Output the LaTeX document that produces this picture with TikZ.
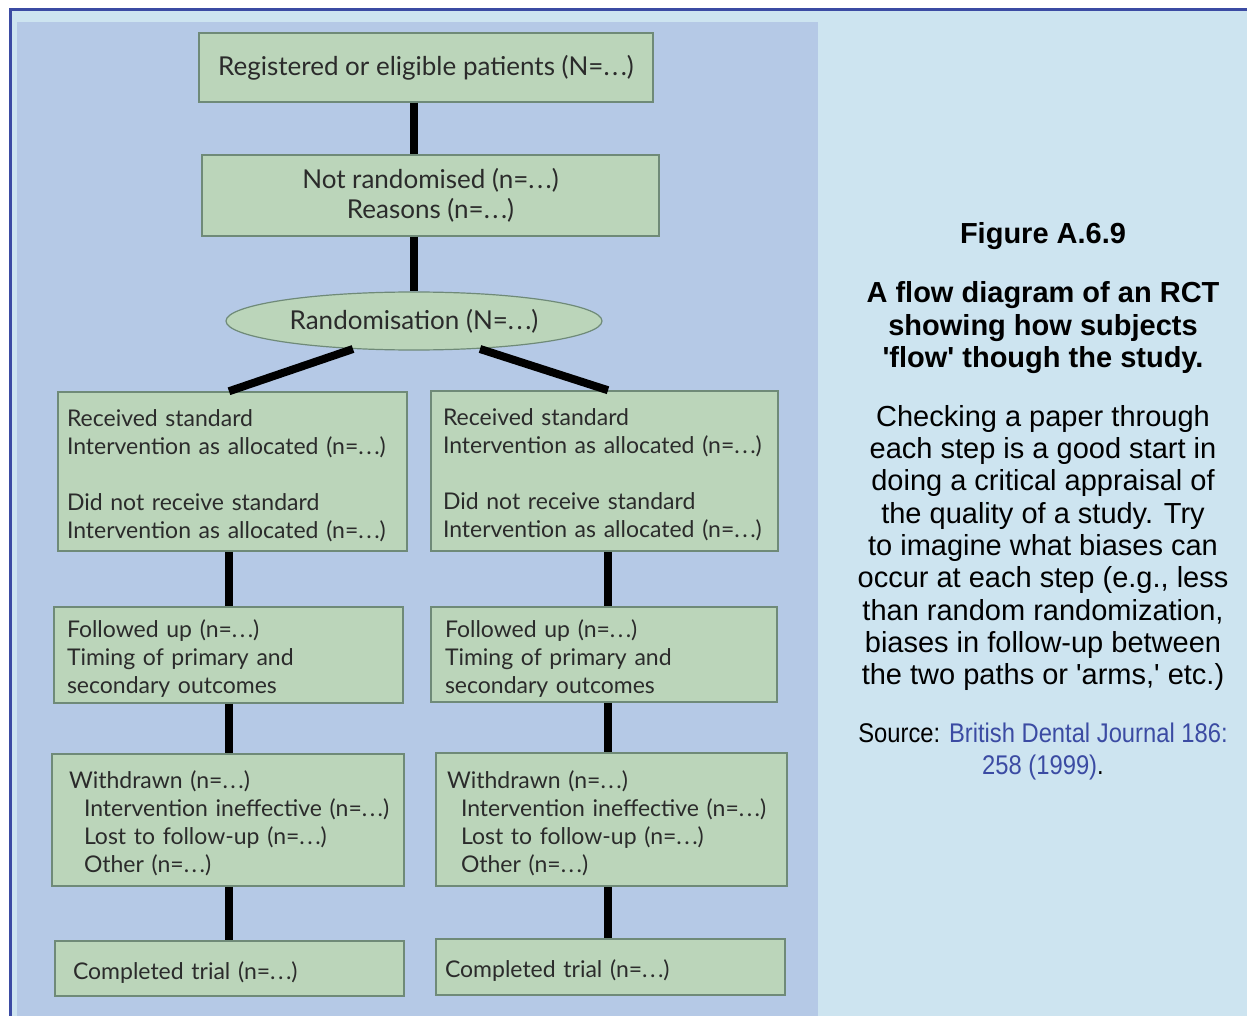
\documentclass[tikz,border=0pt]{standalone}
\usepackage{fontspec}
\setmainfont{Liberation Sans}[Ligatures=TeXOff]
\newfontfamily\diag{Lato}
\newfontfamily\narrowsans[FakeStretch=0.88,Ligatures=TeXOff]{Liberation Sans}
\usetikzlibrary{shapes.geometric,calc}
\definecolor{outerbg}{HTML}{CDE4F0}
\definecolor{panel}{HTML}{B5C9E6}
\definecolor{boxfill}{HTML}{BBD5BA}
\definecolor{boxline}{HTML}{6F8A78}
\definecolor{frame}{HTML}{3B4BA3}
\definecolor{txt}{HTML}{2B2B2B}
\definecolor{linkblue}{HTML}{3B4BA3}
\newcommand{\dd}{.\kern2.5pt.\kern2.5pt.}
\begin{document}
\begin{tikzpicture}[x=1pt,y=-1pt,
 box/.style={draw=boxline, line width=1.5pt, fill=boxfill, inner sep=0pt, text=txt,
   font=\diag\fontsize{23}{28}\selectfont},
 cbox/.style={box, align=center, font=\diag\fontsize{26}{30}\selectfont},
 lbox/.style={box, align=left, execute at begin node={\rule{0pt}{25pt}}},
 conn/.style={line width=8pt, black},
 side/.style={align=center, text=black, font=\fontsize{29}{32.3}\selectfont}]
\useasboundingbox (0,0) rectangle (1247,1016);
\fill[white] (0,0) rectangle (1247,1016);
\fill[outerbg] (10,10) rectangle (1247,1016);
\draw[frame, line width=3pt] (10,1016) -- (10,10) -- (1247,10);
\fill[panel] (17,22) rectangle (818,1016);

\coordinate (lx) at (229,0);
\coordinate (rx) at (608,0);

\node[cbox, minimum width=454pt, minimum height=69pt] (reg) at (426,67.5)
  {Registered or eligible patients (N=\dd)};
\node[cbox, minimum width=457pt, minimum height=81pt] (nr) at (430.5,195.5)
  {Not randomised (n=\dd)\\Reasons (n=\dd)};
\node[ellipse, draw=boxline, line width=1.2pt, fill=boxfill, text=txt, inner sep=0pt,
  minimum width=376pt, minimum height=58pt, font=\diag\fontsize{26}{30}\selectfont]
  (ell) at (414,321) {Randomisation (N=\dd)};

\node[lbox, text width=331pt, inner xsep=9pt, minimum height=159pt] (la) at (232.5,471.5)
  {\mbox{Received standard}\\\mbox{Intervention as allocated (n=\dd)}\\[28pt]\mbox{Did not receive standard}\\\mbox{Intervention as allocated (n=\dd)}};
\node[lbox, text width=323pt, inner xsep=12pt, minimum height=160pt] (ra) at (604.5,471)
  {\mbox{Received standard}\\\mbox{Intervention as allocated (n=\dd)}\\[28pt]\mbox{Did not receive standard}\\\mbox{Intervention as allocated (n=\dd)}};

\node[lbox, text width=323pt, inner xsep=13pt, minimum height=96pt] (fl) at (228.5,655)
  {Followed up (n=\dd)\\Timing of primary and\\secondary outcomes};
\node[lbox, text width=318pt, inner xsep=14pt, minimum height=95pt] (fr) at (604,654.5)
  {Followed up (n=\dd)\\Timing of primary and\\secondary outcomes};

\node[lbox, text width=318pt, inner xsep=17pt, minimum height=132pt] (wl) at (228,820)
  {Withdrawn (n=\dd)\\\mbox{\hspace*{15pt}Intervention ineffective (n=\dd)}\\\hspace*{15pt}Lost to follow-up (n=\dd)\\\hspace*{15pt}Other (n=\dd)};
\node[lbox, text width=329pt, inner xsep=11pt, minimum height=133pt] (wr) at (611.5,819.5)
  {Withdrawn (n=\dd)\\\mbox{\hspace*{14pt}Intervention ineffective (n=\dd)}\\\hspace*{14pt}Lost to follow-up (n=\dd)\\\hspace*{14pt}Other (n=\dd)};

\node[lbox, text width=313pt, inner xsep=18pt, minimum height=55pt] (cl) at (229.5,968.5)
  {Completed trial (n=\dd)};
\node[lbox, text width=331pt, inner xsep=9pt, minimum height=56pt] (cr) at (610.5,967)
  {Completed trial (n=\dd)};

% connectors
\draw[conn] (reg.south -| ell.north) -- (nr.north -| ell.north);
\draw[conn] (nr.south -| ell.north) -- (ell.north);
\draw[conn] ($(ell.center)+(-61,28)$) -- (la.north -| lx);
\draw[conn] ($(ell.center)+(66,28)$) -- (ra.north -| rx);
\draw[conn] (la.south -| lx) -- (fl.north -| lx);
\draw[conn] (fl.south -| lx) -- (wl.north -| lx);
\draw[conn] (wl.south -| lx) -- (cl.north -| lx);
\draw[conn] (ra.south -| rx) -- (fr.north -| rx);
\draw[conn] (fr.south -| rx) -- (wr.north -| rx);
\draw[conn] (wr.south -| rx) -- (cr.north -| rx);

% side text
\node[side, font=\bfseries\fontsize{29}{32.3}\selectfont] (fig) at (1043,236) {Figure A.6.9};
\node[side, font=\bfseries\fontsize{29}{32.5}\selectfont] (ttl) at (1043,328)
  {A flow diagram of an RCT\\showing how subjects\\'flow' though the study.};
\node[side] (par) at (1043,548)
  {Checking a paper through\\each step is a good start in\\doing a critical appraisal of\\the quality of a study. Try\\to imagine what biases can\\occur at each step (e.g., less\\than random randomization,\\biases in follow-up between\\the two paths or 'arms,' etc.)};
\node[side, font=\narrowsans\fontsize{27}{32}\selectfont] (src) at (1043,752)
  {Source: \textcolor{linkblue}{British Dental Journal 186:}\\\textcolor{linkblue}{258 (1999)}.};
\end{tikzpicture}
\end{document}
